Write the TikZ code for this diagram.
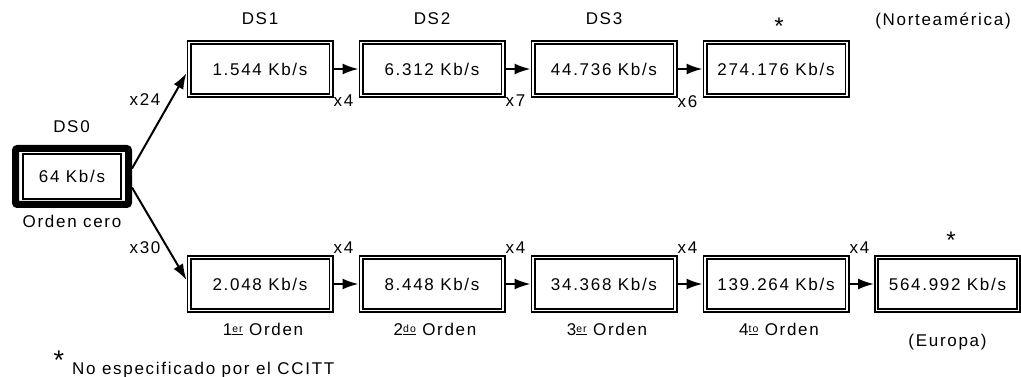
\documentclass[tikz,border=0pt]{standalone}
\usepackage{fontspec}
\setmainfont{Liberation Sans}[LetterSpace=10]
\usepackage{tikz}
\usetikzlibrary{arrows.meta,positioning}
\newcommand{\ordsup}[1]{\raisebox{2.5pt}{\fontsize{10.5}{11}\selectfont\underline{#1}}}

\begin{document}
\begin{tikzpicture}[
  x=1pt, y=-1pt,
  font=\fontsize{17}{20}\selectfont,
  box/.style={rectangle, draw, line width=1.7pt, double=white, double distance=1.6pt, minimum width=142pt, minimum height=53pt, outer sep=2.5pt, inner sep=0pt},
  arrow/.style={-{Latex[length=16pt, width=11pt]}, line width=2pt},
  tag/.style={inner sep=0pt},
  star/.style={inner sep=0pt, anchor=north, font=\fontsize{24}{26}\selectfont}
]
\useasboundingbox (0,0) rectangle (1021,377);
% Orden cero
\node[rectangle, draw, line width=7pt, rounded corners=2pt, minimum width=113pt, minimum height=56pt] (frame) at (72,176.5) {};
\node[rectangle, draw, line width=1.8pt, minimum width=98.5pt, minimum height=45.5pt] (ds0) at (72,176.5) {64 Kb/s};
\node[tag, anchor=base] at (71.5,133) {DS0};
\node[tag, anchor=base] at (72,227) {Orden cero};

% Norteamerica
\node[box] (ds1) at (260,69) {1.544 Kb/s};
\node[box] (ds2) at (432,69) {6.312 Kb/s};
\node[box] (ds3) at (604,69) {44.736 Kb/s};
\node[box] (ds4) at (776,69) {274.176 Kb/s};
\node[tag, anchor=base] at (260,25) {DS1};
\node[tag, anchor=base] at (432,25) {DS2};
\node[tag, anchor=base] at (604,25) {DS3};
\node[star] at (779,18) {*};
\node[tag, anchor=base] at (943,26) {(Norteamérica)};
\draw[arrow] (ds1) -- (ds2);
\draw[arrow] (ds2) -- (ds3);
\draw[arrow] (ds3) -- (ds4);
\node[tag, anchor=north west] at ([yshift=3pt]ds1.south east) {x4};
\node[tag, anchor=north west] at ([yshift=3pt]ds2.south east) {x7};
\node[tag, anchor=north west] at ([yshift=3pt]ds3.south east) {x6};

% Europa
\node[box] (e1) at (260,284) {2.048 Kb/s};
\node[box] (e2) at (432,284) {8.448 Kb/s};
\node[box] (e3) at (604,284) {34.368 Kb/s};
\node[box] (e4) at (776,284) {139.264 Kb/s};
\node[box] (e5) at (947.5,284) {564.992 Kb/s};
\draw[arrow] (e1) -- (e2);
\draw[arrow] (e2) -- (e3);
\draw[arrow] (e3) -- (e4);
\draw[arrow] (e4) -- (e5);
\node[tag, anchor=south west] at ([yshift=1pt]e1.north east) {x4};
\node[tag, anchor=south west] at ([yshift=1pt]e2.north east) {x4};
\node[tag, anchor=south west] at ([yshift=1pt]e3.north east) {x4};
\node[tag, anchor=south west] at ([yshift=1pt]e4.north east) {x4};
\node[tag, anchor=base] at (263,335) {1\ordsup{er} Orden};
\node[tag, anchor=base] at (435,335) {2\ordsup{do} Orden};
\node[tag, anchor=base] at (607,335) {3\ordsup{er} Orden};
\node[tag, anchor=base] at (779,335) {4\ordsup{to} Orden};
\node[star] at (951,232) {*};
\node[tag, anchor=base] at (947.5,346) {(Europa)};

% Multiplexado desde DS0
\draw[arrow] ([yshift=8pt]frame.east) -- ([yshift=-4pt]ds1.west);
\draw[arrow] ([yshift=-11pt]frame.east) -- ([yshift=4pt]e1.west);
\node[tag] at (145,100) {x24};
\node[tag] at (145,248) {x30};

% Nota
\node[star, font=\fontsize{27}{29}\selectfont] at (59,351) {*};
\node[tag, anchor=base west] at (72,374) {No especificado por el CCITT};
\end{tikzpicture}
\end{document}
